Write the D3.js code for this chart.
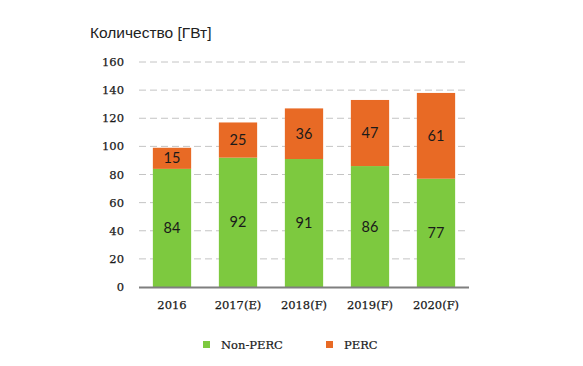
<!DOCTYPE html>
<html><head><meta charset="utf-8">
<script src="https://cdn.jsdelivr.net/npm/d3@7"></script>
<style>body{margin:0;background:#fff}svg{display:block}</style>
</head><body>
<svg id="c" width="583" height="366"></svg>
<script>
const categories = ["2016","2017(E)","2018(F)","2019(F)","2020(F)"];
const nonPerc = [84,92,91,86,77];
const perc = [15,25,36,47,61];
const yTicks = [0,20,40,60,80,100,120,140,160];
const seriesNames = ["Non-PERC","PERC"];
const colors = ["#7DC93F","#E86A25"];

const svg = d3.select("#c");
const x = d3.scaleBand().domain(categories).range([139,469]).paddingInner(0.42).paddingOuter(0.21);
const y = d3.scaleLinear().domain([0,160]).range([287,62]);
const serif = "'DejaVu Serif', serif";
const sans = "Lato, 'Open Sans', sans-serif";

svg.append("text").attr("x",90).attr("y",38).attr("font-family","'Liberation Sans', Arial, sans-serif")
  .attr("font-size",15.5).attr("fill","#222").text("Количество [ГВт]");

// grid
svg.append("g").selectAll("line").data(yTicks.filter(d=>d>0)).join("line")
  .attr("x1",139).attr("x2",469).attr("y1",d=>y(d)).attr("y2",d=>y(d))
  .attr("stroke","#c4c4c4").attr("stroke-width",1).attr("stroke-dasharray","7,4");

// y labels
svg.append("g").selectAll("text").data(yTicks).join("text")
  .attr("x",124).attr("y",d=>y(d)).attr("dy","0.35em").attr("text-anchor","end")
  .attr("font-family",serif).attr("font-size",11.5).attr("fill","#1a1a1a")
  .attr("stroke","#1a1a1a").attr("stroke-width",0.25).text(d=>d);

const stack = categories.map((c,i)=>({c, a:nonPerc[i], b:perc[i]}));
const g = svg.append("g");
g.selectAll("rect.a").data(stack).join("rect").attr("class","a")
  .attr("x",d=>x(d.c)).attr("width",x.bandwidth())
  .attr("y",d=>y(d.a)).attr("height",d=>y(0)-y(d.a)).attr("fill",colors[0]);
g.selectAll("rect.b").data(stack).join("rect").attr("class","b")
  .attr("x",d=>x(d.c)).attr("width",x.bandwidth())
  .attr("y",d=>y(d.a+d.b)).attr("height",d=>y(d.a)-y(d.a+d.b)).attr("fill",colors[1]);

g.selectAll("text.la").data(stack).join("text").attr("class","la")
  .attr("x",d=>x(d.c)+x.bandwidth()/2).attr("y",d=>y(d.a/2)).attr("dy","0.35em")
  .attr("text-anchor","middle").attr("font-family",sans).attr("font-size",14.5).attr("fill","#1a1a1a").text(d=>d.a);
g.selectAll("text.lb").data(stack).join("text").attr("class","lb")
  .attr("x",d=>x(d.c)+x.bandwidth()/2).attr("y",d=>y(d.a+d.b/2)).attr("dy","0.35em")
  .attr("text-anchor","middle").attr("font-family",sans).attr("font-size",14.5).attr("fill","#1a1a1a").text(d=>d.b);

// x axis line
svg.append("line").attr("x1",139).attr("x2",469).attr("y1",y(0)+0.5).attr("y2",y(0)+0.5)
  .attr("stroke","#7f7f7f").attr("stroke-width",2);

svg.append("g").selectAll("text").data(categories).join("text")
  .attr("x",d=>x(d)+x.bandwidth()/2).attr("y",305).attr("dy","0.35em").attr("text-anchor","middle")
  .attr("font-family",serif).attr("font-size",11.5).attr("fill","#1a1a1a")
  .attr("stroke","#1a1a1a").attr("stroke-width",0.25).text(d=>d);

// legend
const leg = [{n:seriesNames[0],c:colors[0],x:203},{n:seriesNames[1],c:colors[1],x:326}];
const lg = svg.append("g").selectAll("g").data(leg).join("g");
lg.append("rect").attr("x",d=>d.x).attr("y",341).attr("width",7).attr("height",7).attr("fill",d=>d.c);
lg.append("text").attr("x",d=>d.x+18).attr("y",345).attr("dy","0.35em").attr("font-family",serif)
  .attr("font-size",11.5).attr("fill","#1a1a1a").attr("stroke","#1a1a1a").attr("stroke-width",0.2).text(d=>d.n);
</script>
</body></html>
